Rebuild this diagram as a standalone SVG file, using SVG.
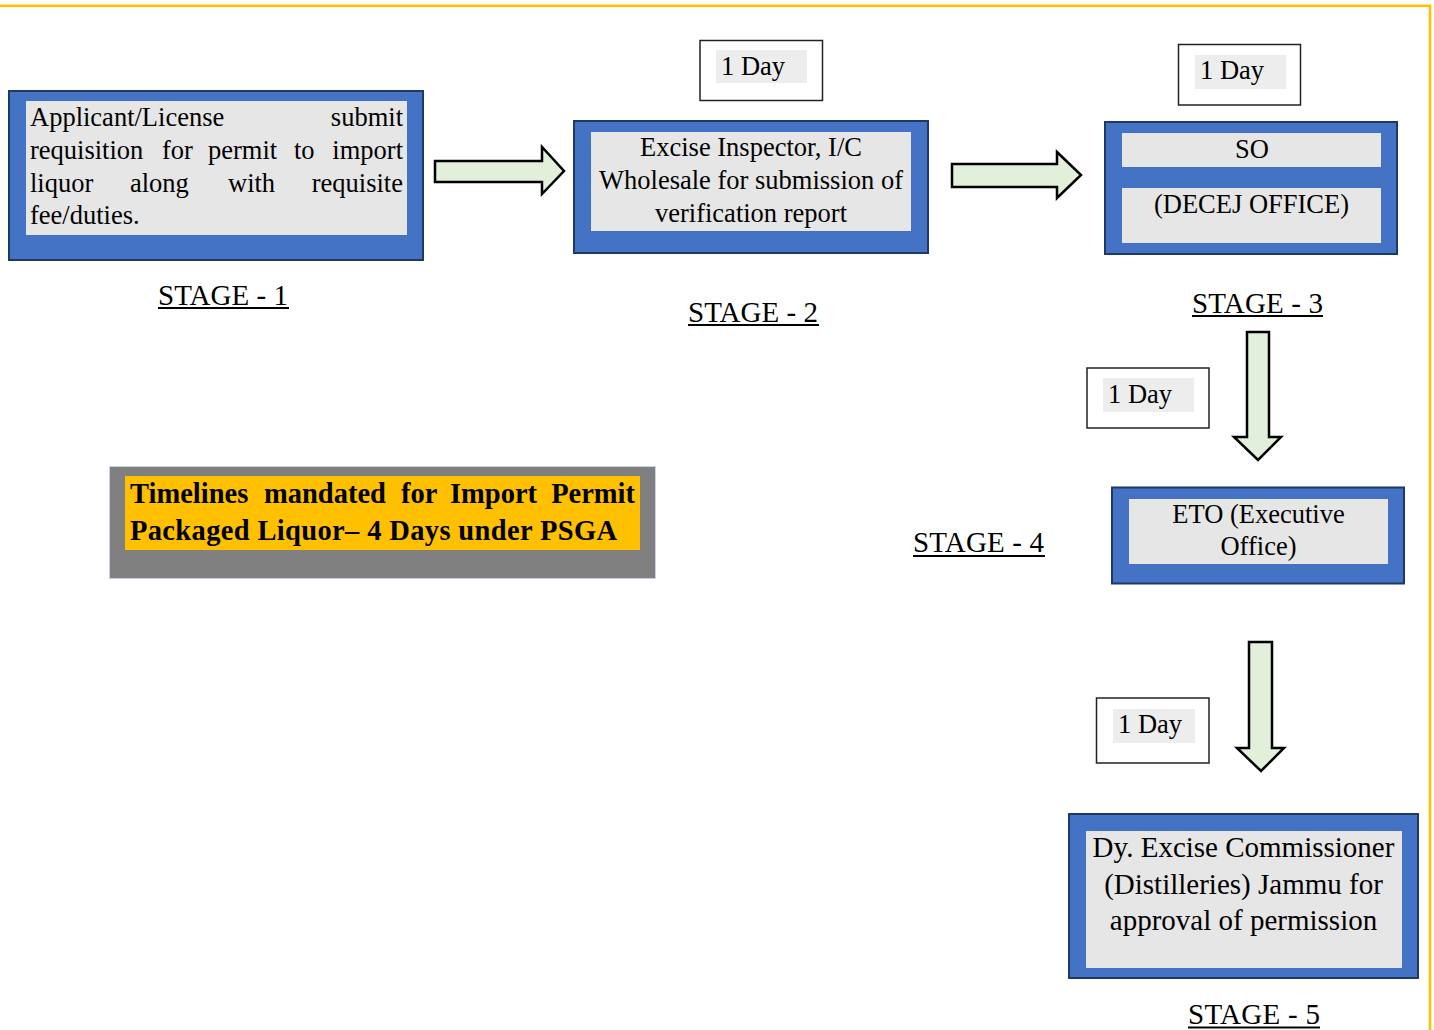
<svg xmlns="http://www.w3.org/2000/svg" width="1434" height="1030" viewBox="0 0 1434 1030">
<style>
.t{font-family:"Liberation Serif","Times New Roman",serif;font-size:26.5px;fill:#000}
.c{text-anchor:middle}
.stage{font-family:"Liberation Serif","Times New Roman",serif;font-size:29px;fill:#000}
.ul{stroke:#000;stroke-width:1.8}
.outer{fill:#4472c4;stroke:#203864;stroke-width:2}
.inner{fill:#e6e6e6}
.day{fill:#fff;stroke:#222;stroke-width:1.5}
.dayin{fill:#ededed}
.arrow{fill:#e2efda;stroke:#000;stroke-width:2.5;stroke-linejoin:miter}
.bold{font-family:"Liberation Serif","Times New Roman",serif;font-size:28.5px;font-weight:bold;fill:#000}
</style>
<rect x="0" y="0" width="1434" height="1030" fill="#fff"/>
<polyline points="0,5.8 1430,5.8 1430,1032" fill="none" stroke="#ffc000" stroke-width="2.6"/>

<g id="connectors">
<polygon class="arrow" points="435,161 542,161 542,147 564,171 542,194 542,182 435,182"/>
<polygon class="arrow" points="952,164 1057,164 1057,152 1081,175 1057,198 1057,187 952,187"/>
<polygon class="arrow" points="1247,332 1269,332 1269,437 1281,437 1258,460 1234,437 1247,437"/>
<polygon class="arrow" points="1249,642 1272,642 1272,748 1284,748 1261,771 1237,748 1249,748"/>
</g>

<g id="stage1">
<rect class="outer" x="9" y="91" width="414" height="169"/>
<rect class="inner" x="26" y="101" width="381" height="134"/>
<text class="t" x="30" y="126">Applicant/License</text>
<text class="t" x="403" y="126" text-anchor="end">submit</text>
<text class="t" y="159"><tspan x="30">requisition</tspan><tspan x="162">for</tspan><tspan x="208">permit</tspan><tspan x="294">to</tspan></text>
<text class="t" x="403" y="159" text-anchor="end">import</text>
<text class="t" y="192"><tspan x="30">liquor</tspan><tspan x="130">along</tspan><tspan x="228">with</tspan></text>
<text class="t" x="403" y="192" text-anchor="end">requisite</text>
<text class="t" x="30" y="224">fee/duties.</text>
</g>
<g id="label1">
<text class="stage" x="158" y="305" textLength="130" lengthAdjust="spacing">STAGE - 1</text>
<line class="ul" x1="158" y1="308" x2="289" y2="308"/>
</g>

<g id="day2">
<rect class="day" x="700" y="40.5" width="122.5" height="60"/>
<rect class="dayin" x="716" y="50" width="91" height="33"/>
<text class="t" x="721" y="75">1 Day</text>
</g>
<g id="stage2">
<rect class="outer" x="574" y="121" width="354" height="132"/>
<rect class="inner" x="591" y="132" width="320" height="99"/>
<text class="t c" x="751" y="156">Excise Inspector, I/C</text>
<text class="t c" x="751" y="189">Wholesale for submission of</text>
<text class="t c" x="751" y="222">verification report</text>
</g>
<g id="label2">
<text class="stage" x="688" y="322" textLength="130" lengthAdjust="spacing">STAGE - 2</text>
<line class="ul" x1="688" y1="325" x2="819" y2="325"/>
</g>

<g id="day3">
<rect class="day" x="1178.5" y="44.5" width="122" height="60.5"/>
<rect class="dayin" x="1195" y="55" width="91" height="34"/>
<text class="t" x="1200" y="79">1 Day</text>
</g>
<g id="stage3">
<rect class="outer" x="1105" y="122" width="292" height="132"/>
<rect class="inner" x="1122" y="133" width="259" height="34"/>
<rect class="inner" x="1122" y="188" width="259" height="55"/>
<text class="t c" x="1252" y="158">SO</text>
<text class="t c" x="1251.5" y="213">(DECEJ OFFICE)</text>
</g>
<g id="label3">
<text class="stage" x="1192" y="313" textLength="131" lengthAdjust="spacing">STAGE - 3</text>
<line class="ul" x1="1192" y1="316" x2="1323" y2="316"/>
</g>

<g id="day4">
<rect class="day" x="1087" y="368" width="122" height="60"/>
<rect class="dayin" x="1103" y="378" width="91" height="34"/>
<text class="t" x="1108" y="403">1 Day</text>
</g>
<g id="stage4">
<rect class="outer" x="1112" y="487.5" width="292" height="96"/>
<rect class="inner" x="1129" y="499" width="259" height="65"/>
<text class="t c" x="1258.5" y="523">ETO (Executive</text>
<text class="t c" x="1258.5" y="555">Office)</text>
</g>
<g id="label4">
<text class="stage" x="913" y="552" textLength="131" lengthAdjust="spacing">STAGE - 4</text>
<line class="ul" x1="913" y1="556" x2="1045" y2="556"/>
</g>

<g id="day5">
<rect class="day" x="1096.5" y="698" width="112.5" height="65"/>
<rect class="dayin" x="1113" y="709" width="82" height="34"/>
<text class="t" x="1118" y="733">1 Day</text>
</g>
<g id="stage5">
<rect class="outer" x="1069" y="814" width="349" height="164"/>
<rect class="inner" x="1086" y="831" width="316" height="137"/>
<text class="t c" x="1243.5" y="857" style="font-size:29px">Dy. Excise Commissioner</text>
<text class="t c" x="1243.5" y="894" style="font-size:29px">(Distilleries) Jammu for</text>
<text class="t c" x="1243.5" y="930" style="font-size:29px">approval of permission</text>
</g>
<g id="label5">
<text class="stage" x="1188" y="1024" textLength="132" lengthAdjust="spacing">STAGE - 5</text>
<line class="ul" x1="1188" y1="1027.5" x2="1320" y2="1027.5"/>
</g>

<g id="timelines">
<rect x="109.5" y="466.5" width="546" height="112" fill="#808080" stroke="#c9d3e6" stroke-width="1"/>
<rect x="125" y="476" width="515" height="74" fill="#ffc000"/>
<text class="bold" y="503"><tspan x="130">Timelines</tspan><tspan x="264">mandated</tspan><tspan x="401">for</tspan><tspan x="450">Import</tspan></text>
<text class="bold" x="635" y="503" text-anchor="end">Permit</text>
<text class="bold" x="130" y="540" textLength="487" lengthAdjust="spacing">Packaged Liquor– 4 Days under PSGA</text>
</g>
</svg>
